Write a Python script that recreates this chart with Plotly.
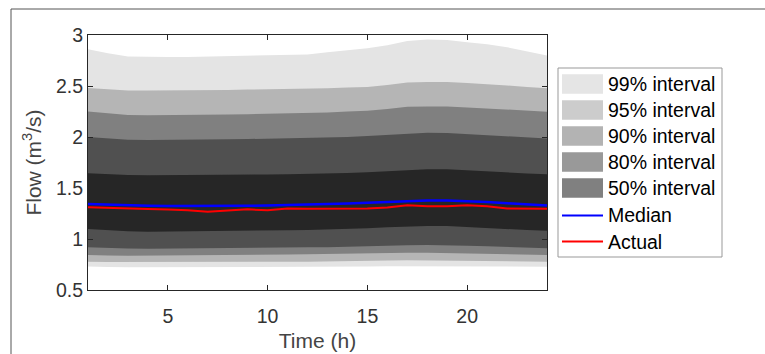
import plotly.graph_objects as go

hours = list(range(1, 25))

# Prediction interval bounds (m^3/s)
upper_99 = [2.86, 2.82, 2.79, 2.785, 2.785, 2.785, 2.79, 2.79, 2.795, 2.80, 2.805, 2.81,
            2.83, 2.85, 2.87, 2.90, 2.94, 2.955, 2.95, 2.93, 2.91, 2.88, 2.84, 2.80]
upper_95 = [2.48, 2.465, 2.455, 2.455, 2.455, 2.457, 2.46, 2.462, 2.465, 2.467, 2.47, 2.473,
            2.478, 2.485, 2.49, 2.51, 2.535, 2.54, 2.54, 2.53, 2.52, 2.505, 2.49, 2.477]
upper_90 = [2.25, 2.23, 2.215, 2.213, 2.213, 2.215, 2.218, 2.22, 2.223, 2.227, 2.232, 2.236,
            2.24, 2.25, 2.258, 2.275, 2.297, 2.30, 2.30, 2.29, 2.28, 2.27, 2.258, 2.248]
upper_80 = [2.00, 1.985, 1.972, 1.97, 1.97, 1.972, 1.975, 1.977, 1.98, 1.983, 1.987, 1.99,
            1.995, 2.0, 2.01, 2.022, 2.035, 2.042, 2.04, 2.03, 2.02, 2.005, 1.995, 1.985]
upper_50 = [1.645, 1.635, 1.627, 1.625, 1.625, 1.626, 1.627, 1.628, 1.63, 1.632, 1.634, 1.636,
            1.64, 1.647, 1.655, 1.665, 1.678, 1.684, 1.684, 1.672, 1.66, 1.65, 1.642, 1.635]
lower_50 = [1.097, 1.085, 1.075, 1.072, 1.072, 1.074, 1.076, 1.078, 1.08, 1.083, 1.086, 1.088,
            1.091, 1.097, 1.105, 1.115, 1.124, 1.128, 1.127, 1.117, 1.107, 1.097, 1.088, 1.08]
lower_80 = [0.918, 0.912, 0.907, 0.905, 0.906, 0.907, 0.908, 0.91, 0.912, 0.914, 0.916, 0.918,
            0.919, 0.922, 0.926, 0.932, 0.938, 0.941, 0.94, 0.934, 0.928, 0.92, 0.914, 0.91]
lower_90 = [0.843, 0.839, 0.836, 0.835, 0.836, 0.838, 0.84, 0.842, 0.844, 0.846, 0.848, 0.85,
            0.851, 0.853, 0.856, 0.86, 0.864, 0.866, 0.866, 0.861, 0.857, 0.852, 0.847, 0.843]
lower_95 = [0.778, 0.775, 0.772, 0.771, 0.771, 0.772, 0.773, 0.774, 0.775, 0.776, 0.777, 0.778,
            0.779, 0.781, 0.784, 0.788, 0.792, 0.794, 0.794, 0.79, 0.786, 0.782, 0.779, 0.777]
lower_99 = [0.73, 0.726, 0.722, 0.72, 0.72, 0.721, 0.722, 0.723, 0.724, 0.725, 0.726, 0.727,
            0.728, 0.729, 0.73, 0.732, 0.734, 0.735, 0.735, 0.734, 0.732, 0.731, 0.73, 0.729]

median = [1.343, 1.335, 1.328, 1.325, 1.323, 1.322, 1.322, 1.323, 1.325, 1.328, 1.331, 1.335,
          1.34, 1.347, 1.355, 1.363, 1.372, 1.378, 1.378, 1.372, 1.362, 1.35, 1.338, 1.328]
actual = [1.311, 1.303, 1.296, 1.293, 1.289, 1.283, 1.268, 1.282, 1.291, 1.281, 1.300, 1.297,
          1.297, 1.298, 1.300, 1.31, 1.330, 1.320, 1.321, 1.330, 1.320, 1.300, 1.300, 1.297]

band_names = ["99% interval", "95% interval", "90% interval", "80% interval", "50% interval"]
band_upper = [upper_99, upper_95, upper_90, upper_80, upper_50]
band_lower = [lower_99, lower_95, lower_90, lower_80, lower_50]
plot_colors = ["#e4e4e4", "#b5b5b5", "#808080", "#505050", "#262626"]
legend_colors = ["#e5e5e5", "#cccccc", "#b3b3b3", "#999999", "#808080"]
line_names = ["Median", "Actual"]
line_colors = ["#0000ff", "#ff0000"]

fig = go.Figure()
for name, up, lo, col in zip(band_names, band_upper, band_lower, plot_colors):
    fig.add_trace(go.Scatter(
        x=hours + hours[::-1], y=up + lo[::-1], fill="toself", fillcolor=col,
        line=dict(width=0), mode="lines", name=name, showlegend=False, hoverinfo="skip"))

fig.add_trace(go.Scatter(x=hours, y=median, mode="lines", name="Median",
                         line=dict(color=line_colors[0], width=2.5), showlegend=False))
fig.add_trace(go.Scatter(x=hours, y=actual, mode="lines", name="Actual",
                         line=dict(color=line_colors[1], width=2), showlegend=False))

# pixel -> paper helpers for layout decorations
L, R, T, B = 88, 547, 35, 290
def px(x):
    return (x - L) / (R - L)
def py(y):
    return (B - y) / (B - T)

shapes = []
annotations = []
# figure frame (top & left)
shapes.append(dict(type="line", xref="paper", yref="paper", x0=px(11), x1=px(766),
                   y0=py(9), y1=py(9), line=dict(color="#555555", width=1)))
shapes.append(dict(type="line", xref="paper", yref="paper", x0=px(11), x1=px(11),
                   y0=py(9), y1=py(355), line=dict(color="#555555", width=1)))
# custom legend box
shapes.append(dict(type="rect", xref="paper", yref="paper", x0=px(558), x1=px(722),
                   y0=py(68), y1=py(257), line=dict(color="#999999", width=1),
                   fillcolor="white"))
all_names = band_names + line_names
for k, name in enumerate(all_names):
    cy = 84 + 26 * k + (1.5 if k >= 5 else 0)
    if k < 5:
        shapes.append(dict(type="rect", xref="paper", yref="paper", x0=px(562), x1=px(603),
                           y0=py(cy - 9.8), y1=py(cy + 9.8), line=dict(width=0),
                           fillcolor=legend_colors[k]))
    else:
        shapes.append(dict(type="line", xref="paper", yref="paper", x0=px(562), x1=px(603),
                           y0=py(cy), y1=py(cy), line=dict(color=line_colors[k - 5], width=2)))
    annotations.append(dict(xref="paper", yref="paper", x=px(606), y=py(cy), text=name,
                            showarrow=False, xanchor="left", yanchor="middle",
                            font=dict(size=19.5, color="#000000")))

fig.update_layout(
    width=765, height=354,
    margin=dict(l=L, r=765 - R, t=T, b=354 - B, autoexpand=False),
    paper_bgcolor="white", plot_bgcolor="white",
    font=dict(family="Liberation Sans, Arial, Helvetica, sans-serif", color="#262626"),
    showlegend=False,
    shapes=shapes, annotations=annotations,
    xaxis=dict(range=[1, 24], tickvals=[5, 10, 15, 20], ticks="inside", ticklen=5,
               tickcolor="#262626", showline=True, linecolor="#262626", linewidth=1,
               mirror="ticks", showgrid=False, zeroline=False, automargin=False,
               ticklabelstandoff=9,
               tickfont=dict(size=19.5, color="#333333"),
               title=dict(text="Time (h)", font=dict(size=21, color="#444444"), standoff=6)),
    yaxis=dict(range=[0.5, 3], tickvals=[0.5, 1, 1.5, 2, 2.5, 3],
               ticktext=["0.5", "1", "1.5", "2", "2.5", "3"], ticks="inside", ticklen=5,
               tickcolor="#262626", showline=True, linecolor="#262626", linewidth=1,
               mirror="ticks", showgrid=False, zeroline=False, automargin=False,
               tickfont=dict(size=19.5, color="#333333"),
               title=dict(text="Flow (m<sup>3</sup>/s)", font=dict(size=21, color="#444444"),
                          standoff=8)),
)

fig.write_html("out.html", config={"displayModeBar": False},
               post_script="document.body.style.margin='0';document.body.style.padding='0';")
